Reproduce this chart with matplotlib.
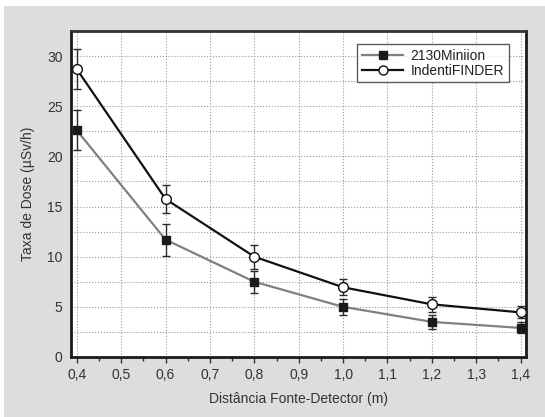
import matplotlib.pyplot as plt
from matplotlib.lines import Line2D
from matplotlib.patches import Rectangle
from matplotlib.ticker import MultipleLocator, FuncFormatter

plt.rcParams["font.family"] = ["Liberation Sans", "DejaVu Sans"]
plt.rcParams["font.size"] = 10

# distance source-detector (m)
distance = [0.4, 0.6, 0.8, 1.0, 1.2, 1.4]

# dose rate (uSv/h) and uncertainty per instrument
miniion = [22.6, 11.7, 7.5, 5.0, 3.5, 2.9]
miniion_err = [2.0, 1.6, 1.1, 0.8, 0.7, 0.55]
identifinder = [28.7, 15.75, 10.0, 6.95, 5.25, 4.45]
identifinder_err = [2.0, 1.4, 1.2, 0.8, 0.75, 0.6]

fig = plt.figure(figsize=(5.45, 4.17), dpi=100, facecolor="white")
fig.patches.append(Rectangle((4 / 545, 0), 1, 1 - 6 / 417, transform=fig.transFigure,
                             facecolor="#dcddde", edgecolor="none", zorder=-10))
ax = fig.add_axes([71 / 545, 1 - 357 / 417, (525.5 - 71) / 545, (357 - 31) / 417])
ax.set_facecolor("white")

ax.errorbar(distance, miniion, yerr=miniion_err, color="#808080", lw=1.6,
            marker="s", ms=6, mfc="#1a1a1a", mec="#1a1a1a",
            ecolor="#2a2a2a", elinewidth=1.0, capsize=3, capthick=1.0, zorder=3)
ax.errorbar(distance, identifinder, yerr=identifinder_err, color="#111111", lw=1.6,
            marker="o", ms=7, mfc="white", mec="#111111", mew=1.0,
            ecolor="#2a2a2a", elinewidth=1.0, capsize=3, capthick=1.0, zorder=4)

ax.set_xlim(0.387, 1.411)
ax.set_ylim(0, 32.5)
ax.xaxis.set_major_locator(MultipleLocator(0.1))
ax.xaxis.set_minor_locator(MultipleLocator(0.05))
ax.yaxis.set_major_locator(MultipleLocator(5))
ax.yaxis.set_minor_locator(MultipleLocator(2.5))
ax.xaxis.set_major_formatter(FuncFormatter(lambda v, p: f"{v:.1f}".replace(".", ",")))

ax.grid(which="major", axis="x", color="#9a9a9a", ls=":", lw=0.8)
ax.grid(which="both", axis="y", color="#9a9a9a", ls=":", lw=0.8)
ax.set_axisbelow(True)

ax.tick_params(axis="x", which="major", direction="out", length=4, width=1, color="#333333",
               labelcolor="#333333", labelsize=10, pad=4)
ax.tick_params(axis="x", which="minor", direction="out", length=3, width=1, color="#333333")
ax.tick_params(axis="y", which="both", length=0, labelcolor="#333333", labelsize=10, pad=6)

for side, spine in ax.spines.items():
    spine.set_linewidth(2)
    spine.set_color("#1a1a1a")
ax.spines["top"].set_color("#333333")

ax.set_xlabel("Distância Fonte-Detector (m)", fontsize=10, color="#333333", labelpad=7)
ax.set_ylabel("Taxa de Dose (µSv/h)", fontsize=10, color="#333333", labelpad=9)

handles = [
    Line2D([], [], color="#808080", lw=1.6, marker="s", ms=6, mfc="#1a1a1a", mec="#1a1a1a"),
    Line2D([], [], color="#111111", lw=1.6, marker="o", ms=6.5, mfc="white", mec="#111111"),
]
leg = ax.legend(handles, ["2130Miniion", "IndentiFINDER"], loc="upper right",
                bbox_to_anchor=(0.963, 0.96), fontsize=10,
                frameon=True, fancybox=False, handlelength=3.0, handletextpad=0.5,
                borderpad=0.35, labelspacing=0.05, borderaxespad=0)
leg.get_frame().set_edgecolor("#333333")
leg.get_frame().set_linewidth(1.0)
for t in leg.get_texts():
    t.set_color("#222222")

fig.savefig("out.png", dpi=100, facecolor=fig.get_facecolor())
